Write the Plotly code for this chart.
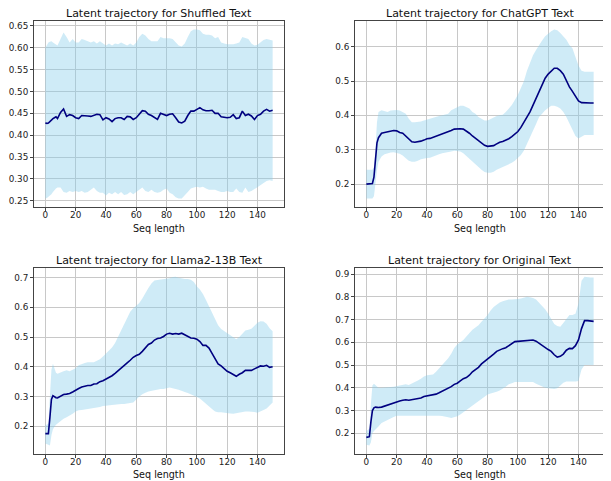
import plotly.graph_objects as go

# ---------------- data ----------------
seq_x = [0, 1, 2, 3, 4, 5, 6, 7, 8] + list(range(10, 151, 2))

titles = ["Latent trajectory for Shuffled Text", "Latent trajectory for ChatGPT Text",
          "Latent trajectory for Llama2-13B Text", "Latent trajectory for Original Text"]

shuf_mean = [.428, .427, .428, .432, .435, .438, .440, .442, .438,
             .452, .460, .443, .447, .445, .440, .438, .445, .445, .444, .443, .445, .448, .447, .435,
             .440, .437, .431, .438, .440, .440, .436, .443, .442, .436, .440, .448, .456, .455, .448,
             .445, .440, .436, .450, .447, .445, .448, .449, .440, .430, .428, .432, .445, .455, .455,
             .460, .463, .458, .456, .456, .457, .450, .450, .442, .441, .440, .441, .447, .438, .440,
             .455, .445, .448, .444, .436, .445, .448, .455, .459, .455, .457]
shuf_upper = [.600, .608, .612, .614, .615, .612, .610, .607, .605,
              .620, .635, .625, .612, .620, .612, .612, .620, .618, .615, .612, .615, .610, .615, .610,
              .605, .610, .605, .610, .608, .612, .608, .605, .610, .605, .612, .625, .632, .628, .620,
              .615, .615, .615, .625, .622, .622, .622, .620, .612, .605, .603, .610, .625, .638, .642,
              .642, .640, .632, .630, .630, .628, .622, .625, .612, .610, .608, .608, .608, .610, .612,
              .625, .622, .620, .610, .605, .607, .612, .618, .620, .618, .617]
shuf_lower = [.255, .256, .258, .262, .265, .270, .275, .278, .280,
              .280, .270, .268, .272, .270, .272, .270, .272, .268, .270, .275, .280, .272, .268, .268,
              .262, .268, .265, .270, .265, .270, .263, .265, .270, .265, .268, .275, .280, .272, .270,
              .275, .270, .268, .270, .275, .278, .268, .265, .258, .255, .255, .262, .270, .278, .280,
              .282, .280, .282, .278, .275, .275, .275, .272, .270, .270, .272, .270, .270, .278, .270,
              .268, .280, .270, .272, .275, .280, .285, .290, .295, .297, .295]

gpt_mean = [.200, .200, .200, .200, .202, .220, .270, .320, .335,
            .348, .350, .352, .355, .356, .355, .350, .348, .340, .330, .323, .322, .323, .325, .328,
            .332, .333, .336, .339, .342, .345, .348, .352, .356, .360, .361, .361, .360, .355, .348,
            .340, .333, .326, .320, .313, .310, .310, .312, .317, .322, .324, .327, .332, .338, .345,
            .353, .365, .380, .395, .410, .430, .450, .470, .490, .508, .520, .530, .537, .537, .530,
            .520, .500, .483, .470, .455, .442, .437, .436, .436, .436, .436]
gpt_upper = [.242, .242, .242, .242, .242, .250, .300, .380, .410,
             .415, .412, .410, .414, .416, .416, .414, .410, .405, .390, .380, .380, .380, .382, .385,
             .388, .390, .392, .395, .398, .400, .402, .405, .415, .420, .425, .428, .428, .425, .420,
             .410, .405, .395, .390, .385, .385, .390, .395, .398, .400, .402, .410, .420, .430, .445,
             .460, .480, .500, .530, .555, .575, .590, .605, .618, .630, .638, .645, .650, .648, .640,
             .630, .620, .605, .595, .570, .545, .530, .527, .527, .527, .527]
gpt_lower = [.158, .158, .158, .158, .158, .165, .200, .240, .265,
             .280, .287, .290, .292, .293, .290, .288, .283, .275, .268, .265, .265, .268, .272, .275,
             .276, .277, .280, .283, .287, .290, .292, .294, .295, .297, .297, .295, .290, .280, .272,
             .265, .258, .250, .242, .235, .233, .233, .236, .242, .248, .252, .255, .258, .262, .268,
             .275, .285, .298, .315, .335, .355, .375, .395, .405, .415, .422, .428, .428, .425, .420,
             .410, .395, .380, .360, .340, .333, .338, .343, .343, .343, .343]

llama_mean = [.175, .175, .175, .230, .290, .303, .298, .296, .295,
              .302, .307, .308, .310, .315, .322, .327, .332, .335, .337, .337, .342, .343, .350, .353,
              .358, .363, .370, .378, .386, .395, .403, .413, .422, .432, .438, .442, .452, .465, .475,
              .480, .490, .495, .497, .502, .510, .513, .510, .512, .510, .513, .508, .503, .497, .496,
              .493, .485, .472, .472, .463, .445, .425, .410, .403, .393, .385, .380, .375, .368, .375,
              .380, .388, .388, .388, .393, .398, .403, .402, .405, .398, .400]
llama_upper = [.205, .205, .210, .300, .390, .410, .390, .380, .377,
               .382, .385, .388, .385, .390, .395, .405, .410, .413, .415, .415, .415, .420, .425, .435,
               .445, .452, .465, .480, .500, .520, .545, .565, .585, .597, .605, .615, .630, .650, .665,
               .680, .690, .692, .693, .695, .697, .698, .702, .703, .700, .697, .695, .695, .693, .685,
               .670, .660, .645, .625, .605, .580, .560, .540, .527, .520, .512, .505, .497, .493, .500,
               .510, .522, .525, .528, .538, .548, .553, .552, .545, .530, .520]
llama_lower = [.142, .140, .138, .135, .170, .190, .198, .205, .210,
               .218, .225, .230, .235, .242, .250, .254, .255, .256, .258, .260, .262, .263, .265, .268,
               .270, .270, .272, .273, .274, .275, .275, .276, .278, .280, .290, .300, .308, .313, .317,
               .320, .322, .323, .325, .325, .328, .330, .327, .325, .323, .320, .315, .312, .308, .303,
               .298, .293, .285, .277, .267, .258, .250, .247, .247, .246, .245, .243, .242, .243, .245,
               .248, .250, .250, .250, .248, .245, .250, .255, .260, .270, .280]

orig_mean = [.182, .182, .185, .250, .300, .312, .315, .314, .313,
             .315, .320, .325, .328, .333, .338, .342, .345, .347, .345, .347, .350, .352, .355, .362,
             .365, .365, .370, .372, .378, .385, .392, .397, .405, .415, .420, .430, .440, .445, .455,
             .470, .480, .490, .505, .515, .525, .535, .548, .560, .567, .572, .576, .585, .597, .603,
             .604, .605, .605, .608, .610, .610, .605, .595, .585, .575, .568, .560, .545, .535, .538,
             .548, .565, .573, .572, .585, .610, .660, .695, .695, .694, .692]
orig_upper = [.210, .215, .220, .330, .410, .418, .412, .405, .400,
              .400, .400, .402, .403, .405, .407, .410, .412, .415, .412, .418, .425, .432, .440, .450,
              .455, .458, .458, .470, .485, .500, .515, .530, .550, .575, .590, .600, .610, .625, .640,
              .655, .665, .675, .690, .705, .720, .740, .755, .765, .775, .780, .785, .788, .788, .788,
              .790, .792, .795, .800, .798, .795, .788, .775, .760, .745, .725, .700, .680, .672, .668,
              .685, .700, .720, .720, .725, .770, .870, .888, .885, .885, .885]
orig_lower = [.150, .148, .146, .160, .200, .210, .218, .224, .230,
              .245, .250, .258, .265, .272, .277, .280, .280, .280, .279, .278, .278, .278, .278, .279,
              .279, .279, .278, .277, .277, .276, .274, .270, .267, .272, .275, .282, .290, .300, .310,
              .318, .330, .340, .350, .360, .370, .375, .380, .383, .388, .395, .405, .415, .420, .425,
              .425, .422, .422, .425, .425, .425, .418, .410, .405, .400, .398, .395, .395, .398, .410,
              .422, .428, .428, .428, .428, .430, .480, .500, .500, .500, .500]

x_ticks = [0, 20, 40, 60, 80, 100, 120, 140]
y_ticks = [[0.25, 0.30, 0.35, 0.40, 0.45, 0.50, 0.55, 0.60, 0.65],
           [0.2, 0.3, 0.4, 0.5, 0.6],
           [0.2, 0.3, 0.4, 0.5, 0.6, 0.7],
           [0.2, 0.3, 0.4, 0.5, 0.6, 0.7, 0.8, 0.9]]
y_fmt = [".2f", ".1f", ".1f", ".1f"]

panels = [(shuf_mean, shuf_upper, shuf_lower),
          (gpt_mean, gpt_upper, gpt_lower),
          (llama_mean, llama_upper, llama_lower),
          (orig_mean, orig_upper, orig_lower)]

# ---------------- layout ----------------
# the page body adds an 8px margin, so the figure is drawn 8px smaller
# and all target pixel positions are shifted by that offset
OFF = 8
W, H = 611 - OFF, 481 - OFF


def px(x):
    return (x - OFF) / W


def py(y):
    return (H - (y - OFF)) / H


xdoms = [[px(34), px(284)], [px(355), px(605)]]
ydoms = [[py(207), py(21)], [py(454), py(268.3)]]
title_y = [py(13), py(260)]
xlab_y = [py(228), py(474)]

FONT = "DejaVu Sans"
FILL = "rgba(135,206,235,0.4)"
LINE = "#000080"

fig = go.Figure()
layout = dict(width=W, height=H, margin=dict(l=0, r=0, t=0, b=0),
              paper_bgcolor="white", plot_bgcolor="white", showlegend=False,
              font=dict(family=FONT, color="#222"), annotations=[])

for i, (m, up, lo) in enumerate(panels):
    row, col = divmod(i, 2)
    sfx = "" if i == 0 else str(i + 1)
    xa, ya = "x" + sfx, "y" + sfx
    fig.add_trace(go.Scatter(x=seq_x + seq_x[::-1], y=up + lo[::-1], fill="toself",
                             fillcolor=FILL, line=dict(width=0), mode="lines",
                             hoverinfo="skip", xaxis=xa, yaxis=ya))
    fig.add_trace(go.Scatter(x=seq_x, y=m, mode="lines", line=dict(color=LINE, width=1.6),
                             xaxis=xa, yaxis=ya))
    ymin, ymax = min(lo), max(up)
    pad = 0.05 * (ymax - ymin)
    common = dict(showline=True, mirror=True, linecolor="#444", linewidth=1,
                  ticks="outside", ticklen=3, tickcolor="#444", tickwidth=1,
                  showgrid=True, gridcolor="#c8c8c8", gridwidth=1, zeroline=False,
                  tickfont=dict(family=FONT, size=8.8, color="#222"), automargin=False)
    layout["xaxis" + sfx] = dict(common, domain=xdoms[col], range=[-7.5, 157.5],
                                 tickvals=x_ticks, anchor=ya, ticklabelstandoff=-4)
    layout["yaxis" + sfx] = dict(common, domain=ydoms[row], range=[ymin - pad, ymax + pad],
                                 tickvals=y_ticks[i], tickformat=y_fmt[i], anchor=xa)
    cx = (xdoms[col][0] + xdoms[col][1]) / 2
    layout["annotations"].append(dict(text=titles[i], x=cx, y=title_y[row], xref="paper",
                                      yref="paper", showarrow=False, xanchor="center",
                                      yanchor="middle", font=dict(family=FONT, size=11, color="#111")))
    layout["annotations"].append(dict(text="Seq length", x=cx, y=xlab_y[row], xref="paper",
                                      yref="paper", showarrow=False, xanchor="center",
                                      yanchor="middle", font=dict(family=FONT, size=9.6, color="#111")))

fig.update_layout(**layout)
fig.write_html("out.html")
